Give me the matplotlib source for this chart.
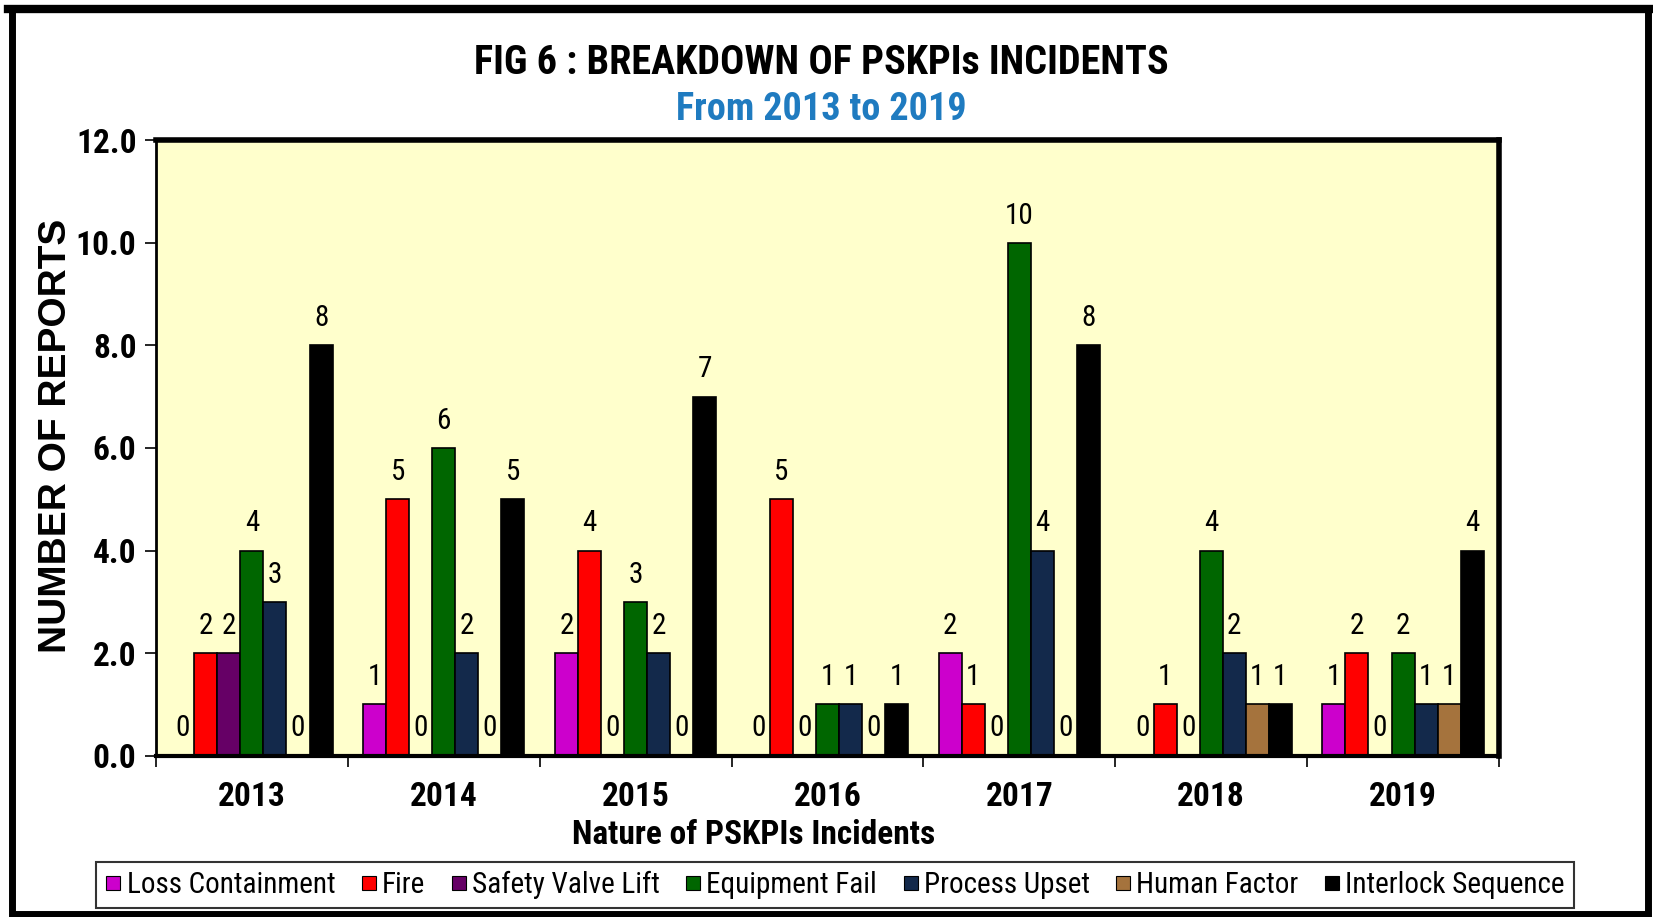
import matplotlib
matplotlib.use("Agg")
import matplotlib.pyplot as plt
import numpy as np
from matplotlib import font_manager as fm
from matplotlib.lines import Line2D
from matplotlib.patches import Rectangle

# incidents per year, one list per nature of incident
years = ["2013", "2014", "2015", "2016", "2017", "2018", "2019"]
series = ["Loss Containment", "Fire", "Safety Valve Lift", "Equipment Fail",
          "Process Upset", "Human Factor", "Interlock Sequence"]
loss_containment = [0, 1, 2, 0, 2, 0, 1]
fire = [2, 5, 4, 5, 1, 1, 2]
safety_valve = [2, 0, 0, 0, 0, 0, 0]
equipment_fail = [4, 6, 3, 1, 10, 4, 2]
process_upset = [3, 2, 2, 1, 4, 2, 1]
human_factor = [0, 0, 0, 0, 0, 1, 1]
interlock = [8, 5, 7, 1, 8, 1, 4]
values = [loss_containment, fire, safety_valve, equipment_fail,
          process_upset, human_factor, interlock]
colors = ["#CC00CC", "#FF0000", "#660066", "#006600", "#13294B", "#A5733D", "#000000"]

# look for a narrow font (chart was made with Arial Narrow), else plain Arial-alike
installed = {f.name for f in fm.fontManager.ttflist}
stretch = "normal"
narrow_name = None
for cand in ["Liberation Sans Narrow", "Arial Narrow", "Roboto Condensed",
             "Open Sans Condensed", "DejaVu Sans Condensed"]:
    if cand in installed:
        narrow_name = cand
        break
if narrow_name is None:
    for f in fm.fontManager.ttflist:
        if f.name == "DejaVu Sans" and "condensed" in str(f.stretch):
            narrow_name, stretch = "DejaVu Sans", "condensed"
            break
if narrow_name is None:
    narrow_name, k = "Liberation Sans", 0.86
else:
    k = 1.0
narrow = [narrow_name, "DejaVu Sans"]
wide = ["Liberation Sans", "DejaVu Sans"]

fig = plt.figure(figsize=(16.53, 9.17), dpi=100)
ax = fig.add_axes([0.0944, 0.176, 0.8124, 0.671])
ax.set_facecolor("#FFFFCC")

x = np.arange(len(years))
w = 0.12
for j, (name, vals, c) in enumerate(zip(series, values, colors)):
    pos = x + (j - 3) * w
    ax.bar(pos, vals, width=w, color=c, edgecolor="black", linewidth=1.2, label=name)
    for p, v in zip(pos, vals):
        ax.annotate(str(v), (p, v), xytext=(0, 9.5), textcoords="offset points",
                    ha="center", va="bottom", fontsize=21 * k, family=narrow,
                    fontstretch=stretch)

ax.set_xlim(-0.5, 6.5)
ax.set_ylim(0, 12)
yt = np.arange(0, 12.1, 2)
ax.set_yticks(yt)
ax.set_yticklabels(["%.1f" % t for t in yt], fontsize=24 * k, fontweight="bold",
                   family=narrow, fontstretch=stretch)
ax.set_xticks(x)
ax.set_xticklabels(years, fontsize=24 * k, fontweight="bold", family=narrow,
                   fontstretch=stretch)
ax.set_xticks(np.arange(-0.5, 7, 1), minor=True)
ax.tick_params(axis="x", which="major", length=0, pad=18)
ax.tick_params(axis="x", which="minor", length=8, width=1.2, direction="out")
ax.tick_params(axis="y", length=8, width=1.2, direction="out", pad=6)

for s in ["top", "right"]:
    ax.spines[s].set_linewidth(4)
ax.spines["left"].set_linewidth(2)
ax.spines["bottom"].set_linewidth(3)

ax.set_xlabel("Nature of PSKPIs Incidents", fontsize=24 * k, fontweight="bold",
              family=narrow, fontstretch=stretch)
ax.xaxis.set_label_coords(0.445, -0.103)
ax.set_ylabel("NUMBER OF REPORTS", fontsize=28, fontweight="bold", family=wide)
ax.yaxis.set_label_coords(-0.061, 0.52)

fig.text(0.497, 0.931, "FIG 6 : BREAKDOWN OF PSKPIs INCIDENTS", ha="center", va="center",
         fontsize=29 * k, fontweight="bold", family=narrow, fontstretch=stretch)
fig.text(0.497, 0.881, "From 2013 to 2019", ha="center", va="center",
         fontsize=27.5 * k, fontweight="bold", family=narrow, fontstretch=stretch,
         color="#1F7BC0")

handles = [Line2D([], [], marker="s", linestyle="", markersize=10, markerfacecolor=c,
                  markeredgecolor="black", markeredgewidth=0.8) for c in colors]
leg = fig.legend(handles, series, loc="center", bbox_to_anchor=(0.505, 0.035), ncol=7,
                 prop={"family": narrow, "size": 21 * k, "stretch": stretch},
                 frameon=True, fancybox=False, handlelength=0.6, handletextpad=0.15,
                 columnspacing=0.85, borderpad=0.3)
leg.get_frame().set_edgecolor("black")
leg.get_frame().set_linewidth(1.5)

# outer black frame
fig.patches.append(Rectangle((0.007, 0.003), 0.99, 0.988, transform=fig.transFigure,
                             fill=False, edgecolor="black", linewidth=5))
fig.add_artist(Line2D([0.005, 0.999], [0.99, 0.99], transform=fig.transFigure,
                      color="black", linewidth=6))

fig.savefig("out.png", dpi=100)
